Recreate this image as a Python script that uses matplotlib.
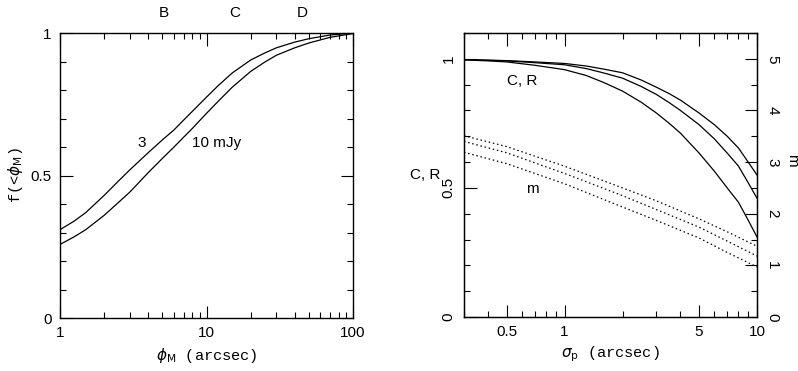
import numpy as np
import matplotlib
matplotlib.use("Agg")
import matplotlib.pyplot as plt
from matplotlib.ticker import FixedLocator, NullFormatter, MultipleLocator

plt.rcParams["font.family"] = ["Liberation Sans", "DejaVu Sans"]
plt.rcParams["font.size"] = 11
plt.rcParams["mathtext.fontset"] = "dejavusans"

# left panel: cumulative fraction vs phi_M
phi = [1, 1.25, 1.5, 2, 2.5, 3, 4, 5, 6, 7, 8, 10, 12, 15, 20, 25, 30, 40, 50, 70, 100]
f_3mjy = [0.31, 0.34, 0.37, 0.43, 0.48, 0.52, 0.58, 0.625, 0.66, 0.695, 0.725, 0.775,
          0.815, 0.86, 0.905, 0.93, 0.948, 0.968, 0.98, 0.993, 1.0]
f_10mjy = [0.258, 0.285, 0.31, 0.36, 0.405, 0.442, 0.51, 0.56, 0.60, 0.635, 0.665, 0.718,
           0.76, 0.81, 0.865, 0.898, 0.922, 0.948, 0.965, 0.985, 0.998]
top_labels = ["B", "C", "D"]
top_label_x = [5.1, 15.5, 45]

# right panel: C, R (solid) and m (dotted) vs sigma_p
sig = [0.3, 0.4, 0.5, 0.7, 1, 1.3, 1.6, 2, 2.5, 3, 3.5, 4, 5, 6, 7, 8, 9, 10]
cr_1 = [0.997, 0.995, 0.993, 0.988, 0.982, 0.972, 0.960, 0.946, 0.918, 0.89, 0.865, 0.84,
        0.79, 0.745, 0.70, 0.655, 0.60, 0.55]
cr_2 = [0.997, 0.994, 0.992, 0.985, 0.977, 0.962, 0.945, 0.925, 0.893, 0.862, 0.83, 0.80,
        0.745, 0.69, 0.635, 0.585, 0.52, 0.46]
cr_3 = [0.996, 0.992, 0.988, 0.975, 0.958, 0.935, 0.908, 0.875, 0.832, 0.79, 0.75, 0.712,
        0.635, 0.565, 0.50, 0.445, 0.375, 0.31]
sig_m = [0.3, 0.5, 1, 2, 3, 5, 7, 10]
m_1 = [3.51, 3.30, 2.92, 2.50, 2.25, 1.90, 1.65, 1.37]
m_2 = [3.40, 3.18, 2.78, 2.35, 2.08, 1.74, 1.47, 1.18]
m_3 = [3.19, 2.97, 2.58, 2.13, 1.87, 1.53, 1.25, 0.97]

mono = ["Liberation Mono", "DejaVu Sans Mono"]

fig = plt.figure(figsize=(7.98, 3.71), dpi=100)
ax1 = fig.add_axes([60 / 798, 53 / 371, 293 / 798, 285 / 371])
ax2 = fig.add_axes([464 / 798, 54 / 371, 293 / 798, 284 / 371])


def style(ax):
    ax.tick_params(which="both", direction="in", top=True, right=True, width=0.8)
    ax.tick_params(which="major", length=9, pad=6)
    ax.tick_params(which="minor", length=4.5)
    for s in ax.spines.values():
        s.set_linewidth(1.0)


# left
ax1.plot(phi, f_3mjy, color="k", lw=0.9)
ax1.plot(phi, f_10mjy, color="k", lw=0.9)
ax1.set_xscale("log")
ax1.set_xlim(1, 100)
ax1.set_ylim(0, 1)
ax1.xaxis.set_major_locator(FixedLocator([1, 10, 100]))
ax1.set_xticklabels(["1", "10", "100"])
ax1.xaxis.set_minor_locator(FixedLocator([2, 3, 4, 5, 6, 7, 8, 9, 20, 30, 40, 50, 60, 70, 80, 90]))
ax1.xaxis.set_minor_formatter(NullFormatter())
ax1.set_yticks([0, 0.5, 1])
ax1.set_yticklabels(["0", "0.5", "1"])
ax1.yaxis.set_minor_locator(MultipleLocator(0.1))
style(ax1)
ax1.set_xlabel(r"$\phi_\mathrm{M}$ (arcsec)", family=mono, labelpad=4)
ax1.set_ylabel(r"f(<$\phi_\mathrm{M}$)", family=mono, labelpad=4)
ax1.text(3.63, 0.614, "3", ha="center", va="center")
ax1.text(7.9, 0.614, "10 mJy", ha="left", va="center")
for lab, xv in zip(top_labels, top_label_x):
    ax1.text(xv, 1.07, lab, ha="center", va="center")

# right
ax2.plot(sig, cr_1, color="k", lw=0.9)
ax2.plot(sig, cr_2, color="k", lw=0.9)
ax2.plot(sig, cr_3, color="k", lw=0.9)
ax2.set_xscale("log")
ax2.set_xlim(0.3, 10)
ax2.set_ylim(0, 1.1)
ax2.xaxis.set_major_locator(FixedLocator([0.5, 1, 5, 10]))
ax2.set_xticklabels(["0.5", "1", "5", "10"])
ax2.xaxis.set_minor_locator(FixedLocator([0.3, 0.4, 0.6, 0.7, 0.8, 0.9, 2, 3, 4, 6, 7, 8, 9]))
ax2.xaxis.set_minor_formatter(NullFormatter())
ax2.set_yticks([0, 0.5, 1])
ax2.set_yticklabels(["0", "0.5", "1"], rotation=90, va="center")
ax2.yaxis.set_minor_locator(MultipleLocator(0.1))
style(ax2)
ax2.tick_params(right=False, which="both")
ax2.set_xlabel(r"$\sigma_\mathrm{p}$ (arcsec)", family=mono, labelpad=4)
ax2.set_ylabel("C, R", rotation=0, ha="center", va="center", labelpad=12)
ax2.text(0.6, 0.915, "C, R", ha="center", va="center")
ax2.text(0.68, 0.494, "m", ha="center", va="center")

ax3 = ax2.twinx()
ax3.set_ylim(0, 5.5)
ax3.plot(sig_m, m_1, color="k", lw=0.9, ls=(0, (1.2, 2.2)))
ax3.plot(sig_m, m_2, color="k", lw=0.9, ls=(0, (1.2, 2.2)))
ax3.plot(sig_m, m_3, color="k", lw=0.9, ls=(0, (1.2, 2.2)))
ax3.set_yticks([0, 1, 2, 3, 4, 5])
ax3.set_yticklabels(["0", "1", "2", "3", "4", "5"], rotation=270, va="center")
ax3.yaxis.set_minor_locator(MultipleLocator(0.5))
ax3.tick_params(which="both", direction="in", width=0.8)
ax3.tick_params(which="major", length=9, pad=6)
ax3.tick_params(which="minor", length=4.5)
ax3.text(1.12, 0.55, "m", rotation=270, ha="center", va="center", transform=ax3.transAxes)

fig.savefig("out.png", dpi=100)
